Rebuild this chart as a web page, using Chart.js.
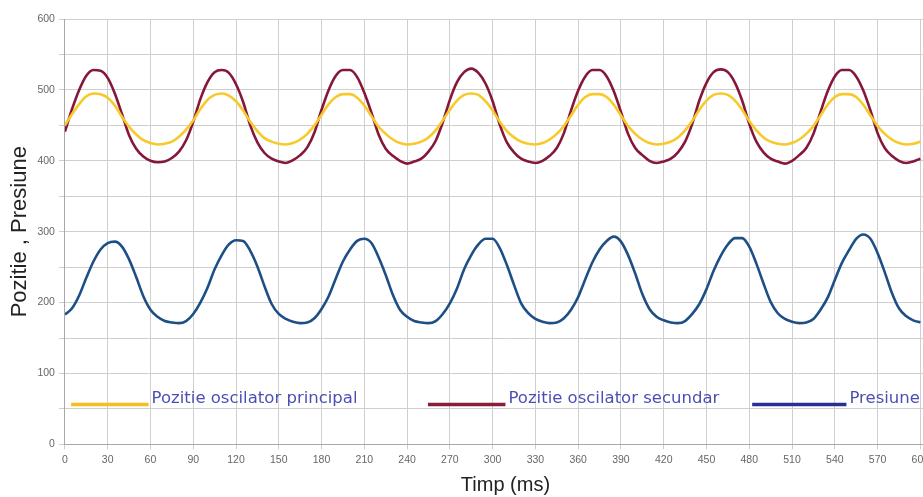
<!DOCTYPE html>
<html>
<head>
<meta charset="utf-8">
<script src="https://cdn.jsdelivr.net/npm/chart.js@4.4.1/dist/chart.umd.min.js"></script>
<style>
	html, body { margin: 0; padding: 0; background: #fff; overflow: hidden; }
	#wrap { position: relative; width: 946px; height: 497px; }
</style>
</head>
<body>
<div id="wrap"><canvas id="osc-chart"></canvas></div>
<script>
// Valori: esantion la fiecare 5 ms, de la 0 la 600 ms
const SAMPLE_MS = 5;
const SERIES_NAMES = ["Pozitie oscilator principal", "Pozitie oscilator secundar", "Presiune"];
const X_TICKS = [0, 30, 60, 90, 120, 150, 180, 210, 240, 270, 300, 330, 360, 390, 420, 450, 480, 510, 540, 570, 600];
const Y_TICKS = [0, 100, 200, 300, 400, 500, 600];

// Pozitie oscilator principal (galben)
const principal = [
	450, 466, 480, 491, 495, 494, 489, 478, 462, 448,
	437, 429, 425, 423, 424, 427, 434, 444, 457, 473,
	486, 493, 495, 492, 484, 471, 455, 442, 432, 427,
	424, 423, 425, 430, 438, 450, 465, 480, 490, 494,
	494, 489, 478, 463, 448, 438, 430, 425, 423, 424,
	427, 433, 443, 457, 472, 485, 493, 495, 493, 484,
	471, 455, 442, 433, 427, 424, 423, 425, 430, 438,
	449, 464, 479, 490, 494, 494, 490, 479, 464, 449,
	438, 430, 425, 423, 424, 427, 433, 443, 456, 472,
	485, 493, 495, 493, 485, 472, 456, 443, 433, 427,
	424, 423, 425, 430, 438, 449, 464, 479, 490, 494,
	494, 490, 479, 464, 449, 438, 430, 425, 423, 424,
	427,
];

// Pozitie oscilator secundar (rosu inchis)
const secundar = [
	441, 473, 500, 520, 528, 527, 517, 495, 466, 436,
	417, 406, 400, 398, 399, 404, 413, 429, 455, 487,
	511, 525, 528, 524, 508, 483, 450, 426, 411, 403,
	399, 397, 401, 408, 419, 440, 472, 500, 520, 528,
	528, 518, 496, 468, 437, 417, 407, 400, 396, 399,
	403, 413, 428, 454, 486, 511, 525, 530, 524, 509,
	484, 451, 426, 412, 403, 399, 397, 400, 407, 418,
	439, 471, 499, 519, 528, 528, 519, 498, 469, 438,
	418, 408, 400, 397, 399, 403, 412, 427, 452, 485,
	510, 525, 529, 525, 510, 485, 452, 427, 412, 403,
	399, 396, 400, 408, 418, 438, 469, 498, 519, 528,
	528, 519, 499, 471, 439, 418, 407, 400, 397, 399,
	403,
];

// Presiune (albastru)
const presiune = [
	183, 192, 210, 235, 258, 275, 284, 286, 279, 261,
	236, 209, 190, 180, 174, 172, 171, 174, 184, 200,
	221, 247, 267, 282, 288, 287, 273, 251, 223, 198,
	184, 177, 173, 171, 172, 178, 191, 209, 234, 258,
	275, 287, 290, 284, 264, 239, 211, 190, 180, 174,
	172, 171, 174, 184, 199, 220, 247, 267, 282, 290,
	290, 277, 253, 225, 199, 185, 177, 173, 171, 172,
	178, 190, 208, 233, 257, 275, 287, 293, 286, 267,
	241, 212, 191, 180, 175, 172, 171, 174, 184, 198,
	219, 245, 266, 282, 291, 291, 279, 255, 227, 201,
	185, 177, 173, 171, 172, 177, 190, 207, 232, 256,
	274, 290, 296, 290, 270, 243, 214, 192, 181, 175,
	172,
];

const SERIES_COLORS = ["#f7c92a", "#85173a", "#1d4f86"];
const LEGEND_COLORS = ["#f4c020", "#8a1d3c", "#2a2f98"];
// pozitia legendei, ca fractiuni din latimea zonei de desen
const LEGEND_SLOTS = [[0.007, 0.095], [0.412, 0.5], [0.78, 0.887]];

function toPoints(values) {
	return values.map((v, i) => ({ x: i * SAMPLE_MS, y: v }));
}

// Legenda desenata in interiorul graficului, ca in original
const insideLegend = {
	id: "insideLegend",
	afterDatasetsDraw(chart) {
		const { ctx, chartArea: a } = chart;
		const w = a.right - a.left;
		const y = a.top + (a.bottom - a.top) * 0.906;
		ctx.save();
		ctx.font = '16.5px "DejaVu Sans", Verdana, sans-serif';
		ctx.textBaseline = "middle";
		ctx.lineWidth = 3.5;
		LEGEND_SLOTS.forEach((slot, i) => {
			const x0 = a.left + w * slot[0];
			const x1 = a.left + w * slot[1];
			ctx.strokeStyle = LEGEND_COLORS[i];
			ctx.beginPath();
			ctx.moveTo(x0, y);
			ctx.lineTo(x1, y);
			ctx.stroke();
			ctx.fillStyle = "#4b4fb4";
			ctx.fillText(SERIES_NAMES[i], x1 + 3, y - 6);
		});
		ctx.restore();
	},
};

const datasets = [principal, secundar, presiune].map((vals, i) => ({
	label: SERIES_NAMES[i],
	data: toPoints(vals),
	borderColor: SERIES_COLORS[i],
	borderWidth: 2.6,
	pointRadius: 0,
	cubicInterpolationMode: "monotone",
	fill: false,
}));

const tickFont = { family: '"Liberation Sans", Arial, sans-serif', size: 10.5 };

new Chart(document.getElementById("osc-chart").getContext("2d"), {
	type: "line",
	data: { datasets: datasets },
	options: {
		responsive: true,
		maintainAspectRatio: false,
		animation: false,
		layout: { padding: { top: 19, left: 7, right: 0, bottom: 0 } },
		plugins: {
			legend: { display: false },
			tooltip: { enabled: false },
		},
		scales: {
			x: {
				type: "linear",
				min: 0,
				max: 618,
				afterBuildTicks: (axis) => {
					axis.ticks = X_TICKS.map((v) => ({ value: v }));
				},
				grid: { color: "#cfcfcf", lineWidth: 1, tickLength: 5 },
				border: { color: "#a8a8a8" },
				ticks: { color: "#666", font: tickFont, maxRotation: 0, padding: 4 },
				title: {
					display: true,
					text: "Timp (ms)",
					color: "#222",
					font: { family: '"Liberation Sans", Arial, sans-serif', size: 20 },
					padding: { top: 3, bottom: 0 },
				},
			},
			y: {
				min: 0,
				max: 600,
				ticks: {
					stepSize: 50,
					color: "#666",
					font: tickFont,
					padding: 4,
					callback: (v) => (Y_TICKS.includes(v) ? v : ""),
				},
				grid: { color: "#cfcfcf", lineWidth: 1, tickLength: 6 },
				border: { color: "#a8a8a8" },
				title: {
					display: true,
					text: "Pozitie , Presiune",
					color: "#222",
					font: { family: '"Liberation Sans", Arial, sans-serif', size: 22 },
					padding: { top: 0, bottom: 0 },
				},
			},
		},
	},
	plugins: [insideLegend],
});
</script>
</body>
</html>
